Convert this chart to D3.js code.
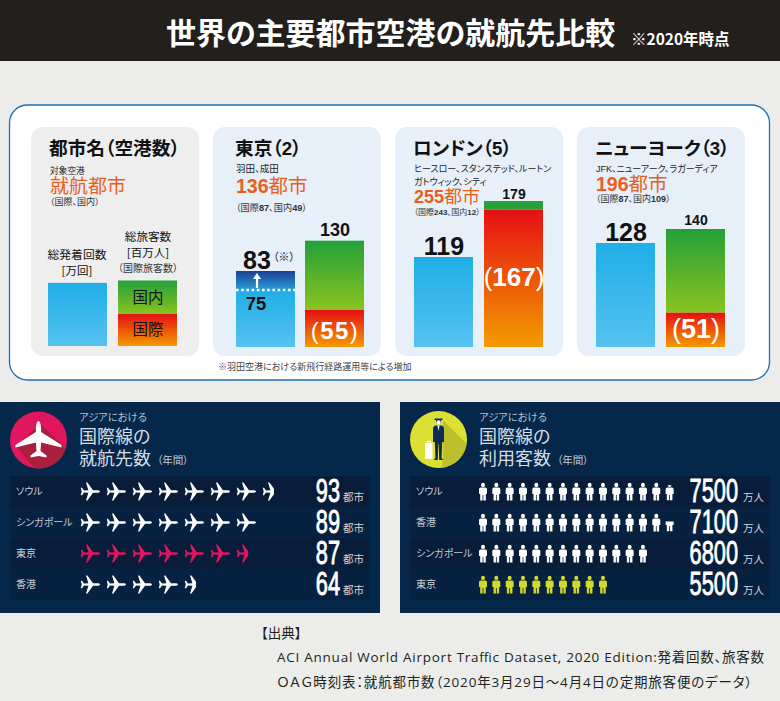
<!DOCTYPE html>
<html lang="ja">
<head>
<meta charset="utf-8">
<script src="https://cdn.jsdelivr.net/npm/d3@7"></script>
<style>
html, body { margin: 0; padding: 0; background: #ecedea; }
svg { display: block; }
</style>
</head>
<body>
<div id="chart"></div>
<script>
// top panels
const cities = ['東京', 'ロンドン', 'ニューヨーク'];
const cityTitles = ['東京（2）', 'ロンドン（5）', 'ニューヨーク（3）'];
const airports = [['羽田、成田'], ['ヒースロー、スタンステッド、ルートン', 'ガトウィック、シティ'], ['JFK、ニューアーク、ラガーディア']];
const destinations = ['136都市', '255都市', '196都市'];
const destSplit = ['（国際87、国内49）', '（国際243、国内12）', '（国際87、国内109）'];
const flights = [83, 119, 128];
const passengers = [130, 179, 140];
const intlPassengers = [55, 167, 51];
const tokyoFlightsBefore = 75;

// schematic bars of the key panel, they carry no labels in the original
const legendFlights = 78;
const legendPassengers = 79;
const legendIntl = 49;

// lower panels
const destCities = ['ソウル', 'シンガポール', '東京', '香港'];
const destValues = [93, 89, 87, 64];
const destIcons = [7.46, 6.77, 6.47, 4.46];
const paxCities = ['ソウル', '香港', 'シンガポール', '東京'];
const paxValues = [7500, 7100, 6800, 5500];
const paxIcons = [14.85, 14.55, 13, 10];

const JP = '"Noto Sans CJK JP", sans-serif';
const MIX = '"Liberation Sans", "Noto Sans CJK JP", sans-serif';
const OPEN = '"Open Sans", "Noto Sans CJK JP", sans-serif';

const svg = d3.select('#chart').append('svg').attr('width', 780).attr('height', 701);
const defs = svg.append('defs');

function gradient(id, top, bottom) {
    const g = defs.append('linearGradient').attr('id', id).attr('x1', 0).attr('y1', 0).attr('x2', 0).attr('y2', 1);
    g.append('stop').attr('offset', 0).attr('stop-color', top);
    g.append('stop').attr('offset', 1).attr('stop-color', bottom);
}
gradient('blue', '#1faee6', '#56c2f0');
gradient('navy', '#1b3f94', '#2a9fd8');
gradient('green', '#23a03a', '#8ac31f');
gradient('red', '#e60f14', '#f49b00');

function label(parent, x, y, str, size, color, opts = {}) {
    return parent.append('text')
        .attr('x', x).attr('y', y)
        .attr('font-size', size)
        .attr('fill', color)
        .attr('font-family', opts.family || JP)
        .attr('font-weight', opts.weight || 400)
        .attr('text-anchor', opts.anchor || 'start')
        .style('font-feature-settings', opts.noPalt ? null : '"palt"')
        .style('letter-spacing', opts.spacing || null)
        .text(str);
}

// same as label, but the pieces matching re are set bold
function mixedLabel(parent, x, y, str, size, color, re, opts = {}) {
    const t = label(parent, x, y, '', size, color, opts);
    str.split(re).filter(s => s.length).forEach(s => {
        t.append('tspan').attr('font-weight', re.test(s) ? 700 : 400).text(s);
    });
    return t;
}
const DIGITS = /(\d+)/;

// header
svg.append('rect').attr('width', 780).attr('height', 61).attr('fill', '#231f1c');
label(svg, 166, 44, '世界の主要都市空港の就航先比較', 30, '#fff', { weight: 700 });
label(svg, 631, 45, '※2020年時点', 15.5, '#fff', { weight: 700 });

// outer frame
svg.append('rect').attr('x', 9.5).attr('y', 105).attr('width', 760).attr('height', 275).attr('rx', 18)
    .attr('fill', '#fff').attr('stroke', '#1f6fb6').attr('stroke-width', 1.3);

// the original bars are not drawn strictly to scale, so the height scale has several stops
const barHeight = d3.scaleLinear()
    .domain([0, 55, 75, 83, 119, 128, 140, 179])
    .range([0, 37, 57, 76, 90, 104, 118, 146]);
const baseY = 347;
const y = v => baseY - barHeight(v);
const barW = 59;
const panelX = d3.scaleOrdinal().domain(['key', ...cities]).range([31, 213, 395, 577]);
const panelW = 168;

function panel(name, fill) {
    return svg.append('rect').attr('x', panelX(name)).attr('y', 127).attr('width', panelW).attr('height', 229)
        .attr('rx', 12).attr('fill', fill);
}

function bar(x, top, bottom, fill) {
    return svg.append('rect').attr('x', x).attr('y', top).attr('width', barW).attr('height', bottom - top).attr('fill', fill);
}

// key panel
panel('key', '#eeeeef');
label(svg, 49, 155, '都市名（空港数）', 18.7, '#111', { weight: 700, family: MIX });
label(svg, 50, 174, '対象空港', 8.7, '#222');
label(svg, 50, 193, '就航都市', 19, '#e8601c');
label(svg, 50, 205, '（国際、国内）', 9, '#333');
label(svg, 77, 259, '総発着回数', 11.8, '#111', { anchor: 'middle' });
label(svg, 77, 275, '[万回]', 11.5, '#111', { anchor: 'middle' });
label(svg, 148, 241, '総旅客数', 11.6, '#111', { anchor: 'middle' });
label(svg, 148, 257, '[百万人]', 11.5, '#111', { anchor: 'middle' });
label(svg, 148, 272, '（国際旅客数）', 10, '#333', { anchor: 'middle' });
bar(48, y(legendFlights), baseY - 1, 'url(#blue)');
bar(118, y(legendPassengers), y(legendIntl), 'url(#green)');
bar(118, y(legendIntl), baseY - 1, 'url(#red)');
label(svg, 148, 303, '国内', 15.5, '#111', { anchor: 'middle' });
label(svg, 148, 335, '国際', 15.5, '#111', { anchor: 'middle' });

// city panels
const barOffset = [[23, 92], [19, 89], [19, 89]];
const titleX = [23, 19, 19];
// baselines of the text block under each title
const textLayout = [
    { air: [172], airSize: 9.5, dest: 193, destSize: 19.5, split: 211, splitSize: 9.2 },
    { air: [172, 185], airSize: 9, dest: 203, destSize: 18, split: 215, splitSize: 8 },
    { air: [172], airSize: 9, dest: 190.5, destSize: 19.5, split: 202, splitSize: 9 }
];
const flightFont = [25, 25, 25];
const paxFont = [18, 14, 14];
const paxGap = [5, 2, 4];
const intlFont = [24, 26, 27];
const intlSpacing = ['1.5px', null, null];
const intlMid = [339, 286, 338];

cities.forEach((city, i) => {
    const px = panelX(city);
    const lx = px + titleX[i];
    const bx1 = px + barOffset[i][0];
    const bx2 = px + barOffset[i][1];
    const t = textLayout[i];

    panel(city, '#e7eff9');
    label(svg, lx - 1, 155, cityTitles[i], 18.7, '#111', { weight: 700, family: MIX });
    airports[i].forEach((a, k) => label(svg, lx, t.air[k], a, t.airSize, '#222', { family: MIX }));
    mixedLabel(svg, lx, t.dest, destinations[i], t.destSize, '#e8601c', DIGITS, { family: MIX });
    mixedLabel(svg, lx, t.split, destSplit[i], t.splitSize, '#333', DIGITS, { family: MIX });

    // flights bar, Tokyo gets the extra slots on top
    if (city === '東京') {
        bar(bx1, y(flights[i]), y(tokyoFlightsBefore), 'url(#navy)');
        bar(bx1, y(tokyoFlightsBefore), baseY, 'url(#blue)');
        svg.append('line')
            .attr('x1', bx1).attr('x2', bx1 + barW)
            .attr('y1', y(tokyoFlightsBefore)).attr('y2', y(tokyoFlightsBefore))
            .attr('stroke', '#fff').attr('stroke-width', 2.4).attr('stroke-dasharray', '2.6 2.6');
        const ax = bx1 + 21;
        const ay = y(tokyoFlightsBefore);
        svg.append('path')
            .attr('d', `M${ax},${ay - 2}V${ay - 12}`)
            .attr('stroke', '#fff').attr('stroke-width', 2.2);
        svg.append('path')
            .attr('d', `M${ax - 4},${ay - 11}L${ax},${ay - 17}L${ax + 4},${ay - 11}Z`)
            .attr('fill', '#fff');
        label(svg, ax - 1, ay + 20, tokyoFlightsBefore, 18.5, '#111', { weight: 700, family: MIX, anchor: 'middle' });
        label(svg, bx1 + 37, y(flights[i]) - 10, '（※）', 11, '#222', { family: MIX });
    } else {
        bar(bx1, y(flights[i]), baseY, 'url(#blue)');
    }
    const flightX = city === '東京' ? bx1 + 21 : bx1 + 30;
    label(svg, flightX, y(flights[i]) - 2, flights[i], flightFont[i], '#111', { weight: 700, family: MIX, anchor: 'middle' });

    // passengers bar, the London domestic sliver stays plain green
    const domH = y(intlPassengers[i]) - y(passengers[i]);
    bar(bx2, y(passengers[i]), y(intlPassengers[i]), domH < 20 ? '#2aa03a' : 'url(#green)');
    bar(bx2, y(intlPassengers[i]), baseY, 'url(#red)');
    label(svg, bx2 + 30, y(passengers[i]) - paxGap[i], passengers[i], paxFont[i], '#111', { weight: 700, family: MIX, anchor: 'middle' });
    mixedLabel(svg, bx2 + 30, intlMid[i], `(${intlPassengers[i]})`, intlFont[i], '#fff', DIGITS,
        { family: MIX, anchor: 'middle', spacing: intlSpacing[i] });
});

label(svg, 218, 370, '※羽田空港における新飛行経路運用等による増加', 9, '#444');

// lower panels
const planePath = 'M0,-10C1,-10 1.3,-8.5 1.3,-7L1.3,-3L9,2.6L9,4L1.3,1.6L1,6L3.8,8L3.8,9.2L0,8.3L-3.8,9.2L-3.8,8L-1,6L-1.3,1.6L-9,4L-9,2.6L-1.3,-3L-1.3,-7C-1.3,-8.5 -1,-10 0,-10Z';
const bigPlanePath = 'M0,-19C1.6,-19 2.6,-15 2.6,-11L2.6,-8L23,5L23,7.4L2.6,2.5L2,11L8,15.5L8,17.6L0,16L-8,17.6L-8,15.5L-2,11L-2.6,2.5L-23,7.4L-23,5L-2.6,-8L-2.6,-11C-2.6,-15 -1.6,-19 0,-19Z';
const personPath = 'M-2,2.4a2,2.2 0 1,1 4,0a2,2.2 0 1,1 -4,0Z' +
    'M-2.4,5H2.4Q4,5 4,6.6V11.6H2.8V18H0.4V12.6H-0.4V18H-2.8V11.6H-4V6.6Q-4,5 -2.4,5Z';
const rowBand = d3.scaleBand().range([476, 600]);

function infoPanel(x0, title, rows, values, unit, numberRight) {
    const g = svg.append('g').attr('transform', `translate(${x0},0)`);
    g.append('rect').attr('y', 402).attr('width', 380).attr('height', 211).attr('fill', '#05274a');
    label(g, 79, 421, 'アジアにおける', 10.3, '#b8c3cc');
    label(g, 79, 443, '国際線の', 18, '#d6dce0');
    label(g, 79, 465, title, 18, '#d6dce0');
    label(g, 157, 464, '（年間）', 10.5, '#c2cbd2');

    rowBand.domain(rows);
    rows.forEach((r, i) => {
        const ry = rowBand(r);
        g.append('rect').attr('x', 10).attr('y', ry).attr('width', 360).attr('height', rowBand.bandwidth())
            .attr('fill', i % 2 ? '#062240' : '#071d39');
        label(g, 16, ry + 18.5, r, 10, r === '東京' ? '#d5d9dc' : '#c5ccd2');
        label(g, 0, 0, values[i], 33, '#fff', { family: MIX, anchor: 'end' })
            .attr('stroke', '#fff').attr('stroke-width', 0.9)
            .attr('transform', `translate(${numberRight},${ry + 26}) scale(0.66,1)`);
        label(g, 343, ry + 25, unit, 10.5, '#cfd5da');
    });
    return g;
}

// destinations panel
const destPanel = infoPanel(0, '就航先数', destCities, destValues, '都市', 340);
const planeX = d3.scaleLinear().domain([0, 1]).range([80, 106]);
destCities.forEach((c, i) => {
    const cy = rowBand(c) + rowBand.bandwidth() / 2;
    const clipId = `plane-clip-${i}`;
    defs.append('clipPath').attr('id', clipId).append('rect')
        .attr('x', planeX(0)).attr('y', cy - 12).attr('width', planeX(destIcons[i]) - planeX(0)).attr('height', 24);
    destPanel.append('g').attr('clip-path', `url(#${clipId})`)
        .selectAll('path')
        .data(d3.range(Math.ceil(destIcons[i])))
        .enter()
        .append('path')
            .attr('d', planePath)
            .attr('transform', d => `translate(${planeX(d) + 10},${cy}) rotate(90)`)
            .attr('fill', c === '東京' ? '#e0175f' : '#fff');
});

// big plane badge
defs.append('clipPath').attr('id', 'badge-a').append('circle').attr('cx', 38.5).attr('cy', 440).attr('r', 28.5);
destPanel.append('circle').attr('cx', 38.5).attr('cy', 440).attr('r', 28.5).attr('fill', '#e0175f');
destPanel.append('path').attr('clip-path', 'url(#badge-a)')
    .attr('d', 'M40,423L70,453L70,475L40,475L17,447Z').attr('fill', '#ab1f3e');
destPanel.append('path').attr('d', bigPlanePath).attr('transform', 'translate(38.5,440)').attr('fill', '#fff');

// passengers panel
const paxPanel = infoPanel(400, '利用客数', paxCities, paxValues, '万人', 338);
const personX = d3.scaleLinear().domain([0, 1]).range([83, 96.33]);
paxCities.forEach((c, i) => {
    const top = rowBand(c) + rowBand.bandwidth() / 2 - 9;
    const total = paxIcons[i];
    const row = paxPanel.append('g');
    d3.range(Math.ceil(total)).forEach(k => {
        const frac = Math.min(1, total - k);
        const icon = row.append('path')
            .attr('d', personPath)
            .attr('transform', `translate(${personX(k)},${top})`)
            .attr('fill', c === '東京' ? '#d2d92b' : '#fff');
        if (frac < 1) {
            // the last figure is cut from the top down
            const clipId = `person-clip-${i}`;
            defs.append('clipPath').attr('id', clipId).append('rect')
                .attr('x', -5).attr('y', 18 * (1 - frac)).attr('width', 10).attr('height', 18 * frac);
            icon.attr('clip-path', `url(#${clipId})`);
        }
    });
});

// big traveller badge
defs.append('clipPath').attr('id', 'badge-b').append('circle').attr('cx', 38.5).attr('cy', 439.5).attr('r', 28.5);
paxPanel.append('circle').attr('cx', 38.5).attr('cy', 439.5).attr('r', 28.5).attr('fill', '#dbe033');
paxPanel.append('path').attr('clip-path', 'url(#badge-b)')
    .attr('d', 'M43,420L70,447L70,480L40,480L43,460Z').attr('fill', '#bcc02e');
paxPanel.append('rect').attr('x', 25).attr('y', 443).attr('width', 7.5).attr('height', 16).attr('rx', 1).attr('fill', '#fff');
paxPanel.append('path').attr('d', 'M27,443V441.5H30.5V443').attr('stroke', '#fff').attr('fill', 'none');
paxPanel.append('path').attr('d', 'M34.5,418.5h8v1.5h-1.5v2a2.5,2.5 0 0 1 -5,0v-2h-1.5Z').attr('fill', '#0e2b56');
paxPanel.append('circle').attr('cx', 38.5).attr('cy', 422.5).attr('r', 2.2).attr('fill', '#fff');
paxPanel.append('path')
    .attr('d', 'M35.5,425.5H41.5Q44,426 44,429V442L42.2,442L41.6,458L43.5,460H39.2L38.7,444H38.3L37.8,460H33.5L35.4,458L34.8,442L33,442V429Q33,426 35.5,425.5Z')
    .attr('fill', '#0e2b56');
paxPanel.append('path').attr('d', 'M37.5,425.5H39.5L38.5,431Z').attr('fill', '#fff');

// source notes
label(svg, 261, 638, '【出典】', 13.5, '#231f1c');
label(svg, 277, 661.5, 'ACI Annual World Airport Traffic Dataset, 2020 Edition:発着回数、旅客数', 13.5, '#231f1c', { family: OPEN })
    .attr('textLength', 487);
label(svg, 277, 687, 'ＯＡＧ時刻表：就航都市数（2020年3月29日～4月4日の定期旅客便のデータ）', 13.5, '#231f1c', { family: OPEN })
    .attr('textLength', 475);
</script>
</body>
</html>
